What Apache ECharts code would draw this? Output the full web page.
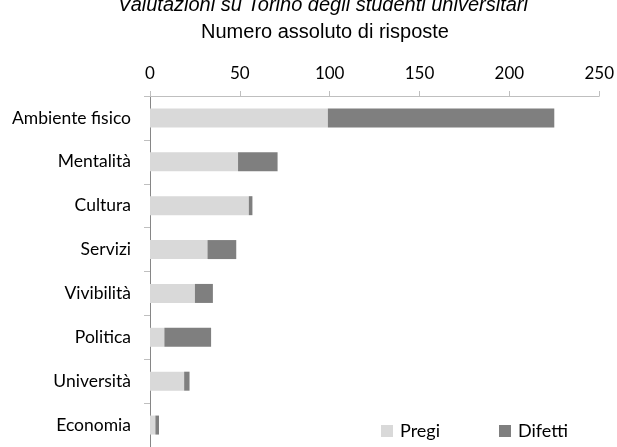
<!DOCTYPE html>
<html>
<head>
<meta charset="utf-8">
<script src="https://cdn.jsdelivr.net/npm/echarts@6/dist/echarts.min.js"></script>
<style>html,body{margin:0;padding:0;background:#fff}#c{width:617px;height:447px}</style>
</head>
<body>
<div id="c"></div>
<script>
const categories = ["Ambiente fisico","Mentalità","Cultura","Servizi","Vivibilità","Politica","Università","Economia"];
const pregi   = [99, 49, 55, 32, 25, 8, 19, 3];
const difetti = [126, 22, 2, 16, 10, 26, 3, 2];
const xTicks = [0, 50, 100, 150, 200, 250];

const chart = echarts.init(document.getElementById('c'), null, {renderer:'canvas'});
chart.setOption({
  animation: false,
  backgroundColor: '#fff',
  title: [{
    text: 'Valutazioni su Torino degli studenti universitari',
    left: 318, top: -10, textAlign: 'center',
    textStyle: {fontFamily: 'Liberation Sans', fontStyle: 'italic', fontWeight: 'normal', fontSize: 20, color: '#000'}
  },{
    text: 'Numero assoluto di risposte',
    left: 320, top: 17, textAlign: 'center',
    textStyle: {fontFamily: 'Liberation Sans', fontWeight: 'normal', fontSize: 20, color: '#000'}
  }],
  legend: {
    data: ['Pregi','Difetti'],
    left: 376, top: 417,
    itemWidth: 12, itemHeight: 12, itemGap: 59,
    icon: 'rect',
    textStyle: {fontFamily: 'Lato', fontSize: 18, color: '#000', padding: [0,0,0,2]}
  },
  grid: {left: 150, top: 96, width: 452, height: 360, containLabel: false},
  xAxis: {
    type: 'value', position: 'top', min: 0, max: 250, interval: 50,
    axisLine: {show: true, lineStyle: {color: '#bfbfbf', width: 1}},
    axisTick: {show: true, length: 5, lineStyle: {color: '#bfbfbf'}},
    splitLine: {show: false},
    axisLabel: {
      margin: 14, fontFamily: 'Lato', fontSize: 17, color: '#000',
      formatter: v => xTicks.includes(v) ? String(v) : ''
    }
  },
  yAxis: {
    type: 'category', inverse: true, data: categories,
    axisLine: {show: true, lineStyle: {color: '#868686', width: 1}},
    axisTick: {show: true, length: 6, lineStyle: {color: '#bfbfbf'}},
    axisLabel: {margin: 19, fontFamily: 'Lato', fontSize: 17.5, color: '#000'}
  },
  series: [{
    name: 'Pregi', type: 'bar', stack: 't', data: pregi,
    itemStyle: {color: '#d9d9d9'}, barWidth: 19
  },{
    name: 'Difetti', type: 'bar', stack: 't', data: difetti,
    itemStyle: {color: '#7f7f7f'}, barWidth: 19
  }]
});
</script>
</body>
</html>
